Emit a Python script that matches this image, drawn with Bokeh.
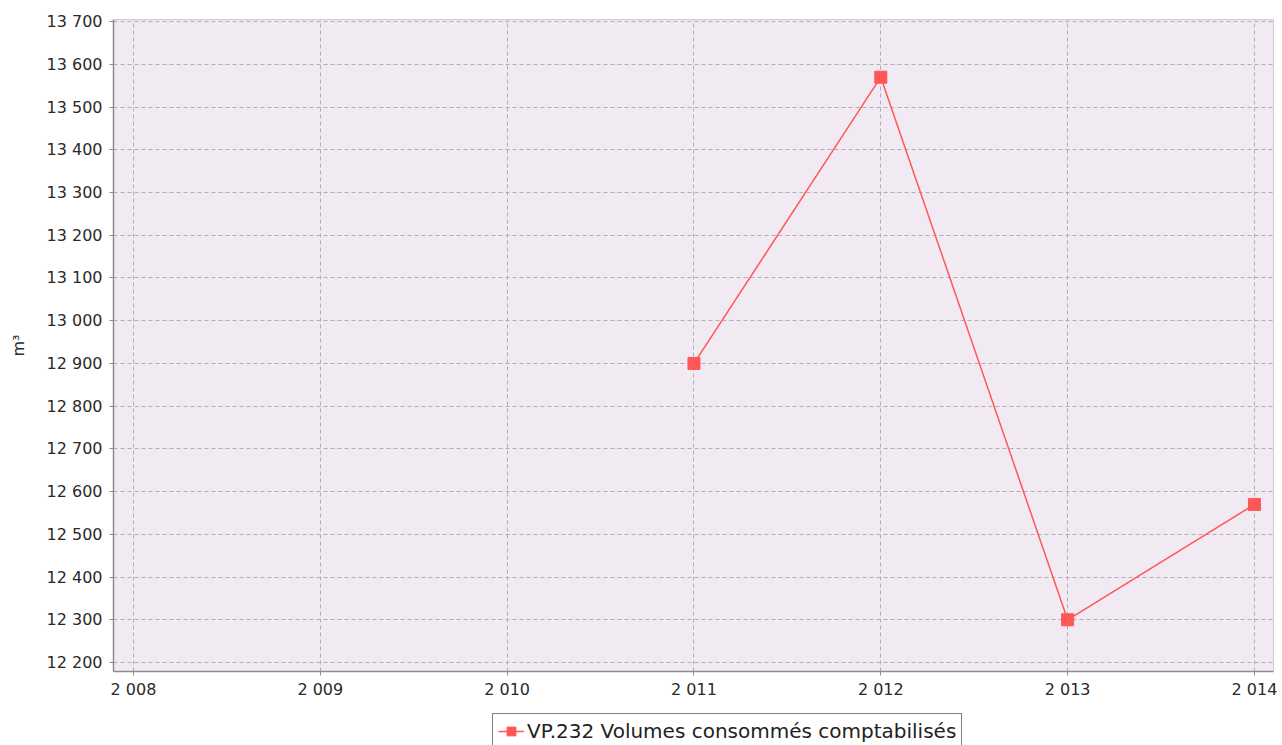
from bokeh.plotting import figure
from bokeh.models import Range1d, FixedTicker, Legend, LegendItem
from bokeh.layouts import column
from bokeh.embed import file_html
from bokeh.resources import INLINE

years = [2011, 2012, 2013, 2014]
volumes = [12900, 13570, 12300, 12570]
series_name = "VP.232 Volumes consommés comptabilisés"
x_ticks = [2008, 2009, 2010, 2011, 2012, 2013, 2014]
x_tick_labels = ["2 008", "2 009", "2 010", "2 011", "2 012", "2 013", "2 014"]
y_ticks = [12200, 12300, 12400, 12500, 12600, 12700, 12800, 12900, 13000,
           13100, 13200, 13300, 13400, 13500, 13600, 13700]
y_tick_labels = ["12 200", "12 300", "12 400", "12 500", "12 600", "12 700", "12 800",
                 "12 900", "13 000", "13 100", "13 200", "13 300", "13 400", "13 500",
                 "13 600", "13 700"]
y_label = "m³"

FONT = "DejaVu Sans"
RED = "#ff5656"

p = figure(frame_width=1160, frame_height=652, output_backend="svg",
           toolbar_location=None,
           x_range=Range1d(2007.893, 2014.102), y_range=Range1d(12179, 13705),
           min_border_left=113, min_border_top=19, min_border_right=9,
           min_border_bottom=0)
p.background_fill_color = "#f2eaf2"
p.border_fill_color = "white"
p.outline_line_color = "#d0c8d0"

for ax in (p.xaxis[0], p.yaxis[0]):
    ax.axis_line_color = "#8c8c8c"
    ax.axis_line_width = 1.5
    ax.major_tick_line_color = "#8c8c8c"
    ax.major_tick_out = 4
    ax.major_tick_in = 0
    ax.minor_tick_out = 0
    ax.minor_tick_in = 0
    ax.major_label_text_font = FONT
    ax.major_label_text_font_size = "16px"
    ax.major_label_text_color = "#2a2a2a"
    ax.major_label_standoff = 7
p.xaxis.major_label_standoff = 4

p.xaxis.ticker = FixedTicker(ticks=x_ticks)
p.xaxis.major_label_overrides = dict(zip(x_ticks, x_tick_labels))
p.yaxis.ticker = FixedTicker(ticks=y_ticks)
p.yaxis.major_label_overrides = dict(zip(y_ticks, y_tick_labels))
p.yaxis.axis_label = y_label
p.yaxis.axis_label_text_font = FONT
p.yaxis.axis_label_text_font_style = "normal"
p.yaxis.axis_label_text_font_size = "16px"
p.yaxis.axis_label_text_color = "#2a2a2a"
p.yaxis.axis_label_standoff = 16

for g in (p.xgrid[0], p.ygrid[0]):
    g.grid_line_color = "#b4acb4"
    g.grid_line_dash = "4 3"
    g.grid_line_width = 1

p.line(years, volumes, line_color=RED, line_width=1.5)
p.scatter(years, volumes, marker="square", size=12, fill_color=RED,
          line_color=RED)

# Legend strip below the chart (its glyph renderers lie outside its own view)
p2 = figure(width=1282, height=48, output_backend="svg", toolbar_location=None,
            x_range=Range1d(0, 1), y_range=Range1d(0, 1),
            x_axis_type=None, y_axis_type=None, min_border=0)
p2.background_fill_color = "white"
p2.border_fill_color = "white"
p2.outline_line_color = None
ln2 = p2.line(years, volumes, line_color=RED, line_width=1.5)
sc2 = p2.scatter(years, volumes, marker="square", size=12, fill_color=RED,
                 line_color=RED)

legend = Legend(items=[LegendItem(label=series_name, renderers=[ln2, sc2])],
                location=(379, 0), orientation="horizontal",
                border_line_color="black", border_line_width=1.2,
                background_fill_color="white", background_fill_alpha=1.0,
                label_text_font=FONT, label_text_font_size="20px",
                label_text_color="#222222", glyph_width=26, glyph_height=22,
                padding=5, margin=0, spacing=0, label_standoff=3)
p2.add_layout(legend)

layout = column(p, p2, spacing=0)
open("out.html", "w").write(file_html(layout, INLINE))
